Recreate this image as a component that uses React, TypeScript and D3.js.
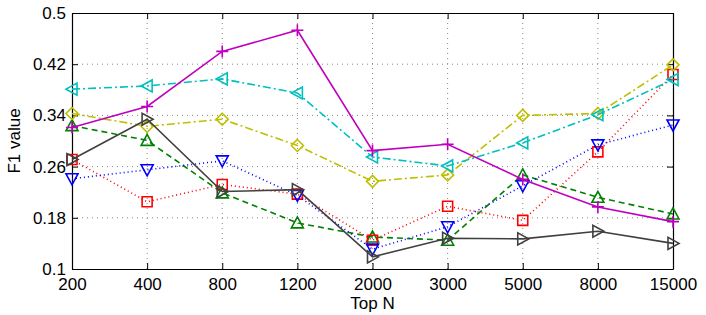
import { useEffect, useRef } from 'react'
import * as d3 from 'd3'

const topN = ['200', '400', '800', '1200', '2000', '3000', '5000', '8000', '15000']
const yTicks = [0.1, 0.18, 0.26, 0.34, 0.42, 0.5]

const magentaPlus = [0.321, 0.354, 0.44, 0.473, 0.285, 0.295, 0.24, 0.197, 0.174]
const cyanLeft = [0.381, 0.386, 0.397, 0.375, 0.275, 0.261, 0.297, 0.341, 0.396]
const yellowDiamond = [0.343, 0.323, 0.334, 0.293, 0.237, 0.247, 0.34, 0.343, 0.419]
const greenUp = [0.324, 0.301, 0.219, 0.172, 0.15, 0.145, 0.247, 0.212, 0.186]
const blueDown = [0.241, 0.255, 0.269, 0.215, 0.131, 0.166, 0.23, 0.294, 0.325]
const redSquare = [0.271, 0.205, 0.232, 0.217, 0.145, 0.198, 0.176, 0.283, 0.404]
const grayRight = [0.271, 0.334, 0.221, 0.224, 0.119, 0.148, 0.147, 0.159, 0.14]

type Marker = 'plus' | 'left' | 'diamond' | 'up' | 'down' | 'square' | 'right'

const series: { values: number[]; color: string; dash: string; marker: Marker }[] = [
  { values: greenUp, color: '#008000', dash: '6,4', marker: 'up' },
  { values: redSquare, color: '#ff0000', dash: '1,3', marker: 'square' },
  { values: blueDown, color: '#0000ff', dash: '1,3', marker: 'down' },
  { values: yellowDiamond, color: '#bfbf00', dash: '8,3,2,3', marker: 'diamond' },
  { values: cyanLeft, color: '#00bfbf', dash: '8,3,2,3', marker: 'left' },
  { values: grayRight, color: '#404040', dash: '', marker: 'right' },
  { values: magentaPlus, color: '#bf00bf', dash: '', marker: 'plus' },
]

function markerPath(m: Marker): string {
  const s = 6
  switch (m) {
    case 'plus': return `M${-s},0H${s}M0,${-s}V${s}`
    case 'square': return `M-5,-5H5V5H-5Z`
    case 'diamond': return `M0,-6L6,0L0,6L-6,0Z`
    case 'up': return `M0,-6L6,5L-6,5Z`
    case 'down': return `M0,6L6,-5L-6,-5Z`
    case 'left': return `M-6,0L5,-6L5,6Z`
    case 'right': return `M6,0L-5,-6L-5,6Z`
  }
}

export default function App() {
  const svgRef = useRef<SVGSVGElement>(null)

  useEffect(() => {
    if (!svgRef.current) return
    const svg = d3.select(svgRef.current)
    svg.selectAll('*').remove()

    const width = 706
    const height = 315
    const margin = { top: 13, right: 33, bottom: 46, left: 72 }
    const w = width - margin.left - margin.right
    const h = height - margin.top - margin.bottom

    const g = svg.append('g').attr('transform', `translate(${margin.left},${margin.top})`)

    const x = d3.scalePoint<string>().domain(topN).range([0, w])
    const y = d3.scaleLinear().domain([0.1, 0.5]).range([h, 0])

    // grid
    g.append('g')
      .selectAll('line.vg')
      .data(topN.slice(1, -1))
      .enter()
      .append('line')
      .attr('x1', d => x(d)!)
      .attr('x2', d => x(d)!)
      .attr('y1', 0)
      .attr('y2', h)
      .attr('stroke', '#888')
      .attr('stroke-dasharray', '1,4')
    g.append('g')
      .selectAll('line.hg')
      .data(yTicks.slice(1, -1))
      .enter()
      .append('line')
      .attr('x1', 0)
      .attr('x2', w)
      .attr('y1', d => y(d))
      .attr('y2', d => y(d))
      .attr('stroke', '#888')
      .attr('stroke-dasharray', '1,4')

    const font = 'Liberation Sans, Arial, sans-serif'

    // axes
    const bottom = g.append('g')
      .attr('transform', `translate(0,${h})`)
      .call(d3.axisBottom(x).tickSizeInner(-6).tickSizeOuter(0).tickPadding(9))
    bottom.selectAll('text').style('font-size', '17px').style('font-family', font).attr('fill', '#000')
    const top = g.append('g').call(d3.axisTop(x).tickSizeInner(-6).tickSizeOuter(0).tickFormat(() => ''))
    const left = g.append('g')
      .call(d3.axisLeft(y).tickValues(yTicks).tickSizeInner(-6).tickSizeOuter(0).tickPadding(6).tickFormat(d => String(+d)))
    left.selectAll('text').style('font-size', '17px').style('font-family', font).attr('fill', '#000')
    const right = g.append('g')
      .attr('transform', `translate(${w},0)`)
      .call(d3.axisRight(y).tickValues(yTicks).tickSizeInner(-6).tickSizeOuter(0).tickFormat(() => ''))
    ;[bottom, top, left, right].forEach(a => {
      a.select('.domain').attr('stroke', '#000').attr('stroke-width', 1.2)
      a.selectAll('.tick line').attr('stroke', '#000')
    })

    // series
    const line = d3.line<number>()
      .x((_, i) => x(topN[i])!)
      .y(d => y(d))

    series.forEach(s => {
      g.append('path')
        .datum(s.values)
        .attr('d', line)
        .attr('fill', 'none')
        .attr('stroke', s.color)
        .attr('stroke-width', 1.6)
        .attr('stroke-dasharray', s.dash || null)
      g.selectAll(null)
        .data(s.values)
        .enter()
        .append('path')
        .attr('transform', (d, i) => `translate(${x(topN[i])},${y(d)})`)
        .attr('d', markerPath(s.marker))
        .attr('fill', 'none')
        .attr('stroke', s.color)
        .attr('stroke-width', 1.6)
    })

    // labels
    svg.append('text')
      .attr('x', margin.left + w / 2)
      .attr('y', 309)
      .attr('text-anchor', 'middle')
      .style('font-family', font)
      .style('font-size', '17px')
      .text('Top N')
    svg.append('text')
      .attr('transform', `translate(20,${margin.top + h / 2}) rotate(-90)`)
      .attr('text-anchor', 'middle')
      .style('font-family', font)
      .style('font-size', '17px')
      .text('F1 value')
  }, [])

  return <svg ref={svgRef} width={706} height={315} style={{ position: 'absolute', left: 0, top: 0, background: '#fff' }} />
}
